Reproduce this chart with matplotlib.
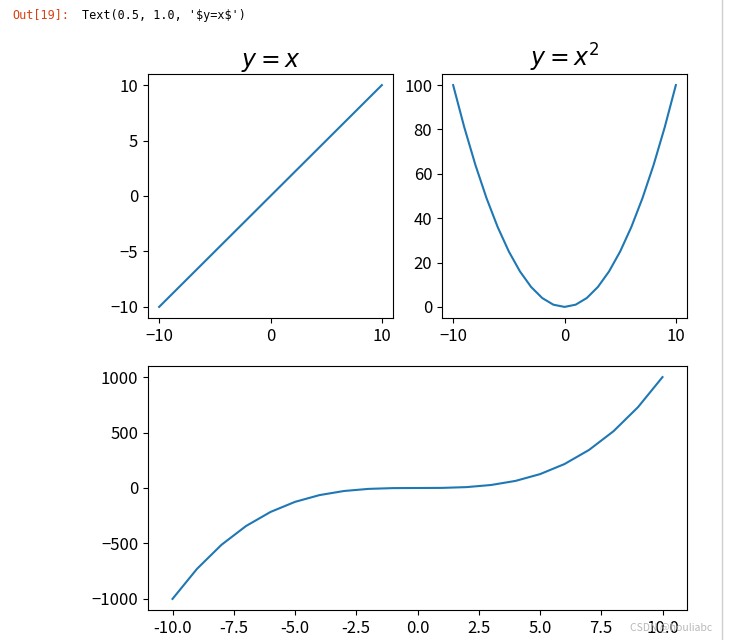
import matplotlib

matplotlib.use("Agg")
import matplotlib.pyplot as plt
from matplotlib.lines import Line2D

plt.rcParams["font.family"] = ["Noto Sans CJK SC", "DejaVu Sans"]
plt.rcParams["axes.unicode_minus"] = True

# integer sample points and the three curves
x = [-10, -9, -8, -7, -6, -5, -4, -3, -2, -1, 0, 1, 2, 3, 4, 5, 6, 7, 8, 9, 10]
y_lin = [-10, -9, -8, -7, -6, -5, -4, -3, -2, -1, 0, 1, 2, 3, 4, 5, 6, 7, 8, 9, 10]
y_sq = [100, 81, 64, 49, 36, 25, 16, 9, 4, 1, 0, 1, 4, 9, 16, 25, 36, 49, 64, 81, 100]
y_cube = [-1000, -729, -512, -343, -216, -125, -64, -27, -8, -1, 0,
          1, 8, 27, 64, 125, 216, 343, 512, 729, 1000]

top_xticks = [-10, 0, 10]
bottom_xticks = [-10.0, -7.5, -5.0, -2.5, 0.0, 2.5, 5.0, 7.5, 10.0]

W, H = 729, 640
fig = plt.figure(figsize=(W / 100, H / 100), dpi=100)


def frac(x0, y0, x1, y1):
    return [x0 / W, 1 - y1 / H, (x1 - x0) / W, (y1 - y0) / H]


ax1 = fig.add_axes(frac(148, 74, 393, 318))
ax2 = fig.add_axes(frac(442, 74, 687, 318))
ax3 = fig.add_axes(frac(148, 366, 687, 610))

line_color = "#1f77b4"
ax1.plot(x, y_lin, color=line_color, linewidth=1.5)
ax1.set_title("$y=x$", fontsize=17, pad=5)
ax1.set_xticks(top_xticks)
ax1.set_yticks([-10, -5, 0, 5, 10])

ax2.plot(x, y_sq, color=line_color, linewidth=1.5)
ax2.set_title("$y=x^2$", fontsize=17, pad=5)
ax2.set_xticks(top_xticks)
ax2.set_yticks([0, 20, 40, 60, 80, 100])

ax3.plot(x, y_cube, color=line_color, linewidth=1.5)
ax3.set_xticks(bottom_xticks)
ax3.set_xticklabels([f"{v:.1f}" for v in bottom_xticks])
ax3.set_yticks([-1000, -500, 0, 500, 1000])

for ax in (ax1, ax2, ax3):
    ax.tick_params(labelsize=12)

# notebook chrome around the figure
fig.text(12 / W, 1 - 15 / H, "Out[19]:", color="#d84315", fontsize=8.5,
         family="DejaVu Sans Mono", va="center", parse_math=False)
fig.text(82 / W, 1 - 15 / H, "Text(0.5, 1.0, '$y=x$')", color="black", fontsize=8.5,
         family="DejaVu Sans Mono", va="center", parse_math=False)
fig.add_artist(Line2D([722 / W, 722 / W], [0, 1], color="#cfcfcf", linewidth=1,
                      transform=fig.transFigure))
fig.text(712 / W, 1 - 627 / H, "CSDN @houliabc", color="#b8b8b8", fontsize=7.5,
         ha="right", va="center", parse_math=False)

fig.savefig("out.png", dpi=100)
